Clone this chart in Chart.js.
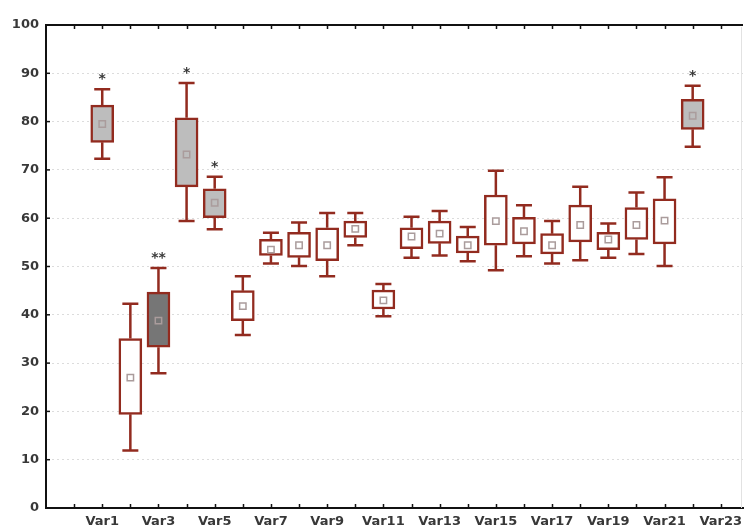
<!DOCTYPE html>
<html>
<head>
<meta charset="utf-8">
<script src="https://cdn.jsdelivr.net/npm/chart.js@4.4.0/dist/chart.umd.min.js"></script>
<style>
    html, body { margin: 0; padding: 0; background: #fff; }
    #wrap { width: 749px; height: 532px; }
</style>
</head>
<body>
<div id="wrap"><canvas id="chart" width="749" height="532"></canvas></div>
<script>
const categories = ['Var1', 'Var2', 'Var3', 'Var4', 'Var5', 'Var6', 'Var7', 'Var8', 'Var9', 'Var10', 'Var11',
    'Var12', 'Var13', 'Var14', 'Var15', 'Var16', 'Var17', 'Var18', 'Var19', 'Var20', 'Var21', 'Var22'];

const whiskerLow = [72.3, 11.9, 27.9, 59.4, 57.7, 35.8, 50.6, 50.1, 48.0, 54.4, 39.7,
    51.8, 52.3, 51.1, 49.2, 52.1, 50.6, 51.3, 51.8, 52.6, 50.1, 74.8];
const boxLow = [75.7, 19.4, 33.3, 66.5, 60.1, 38.8, 52.3, 51.9, 51.2, 56.0, 41.2,
    53.7, 54.8, 52.8, 54.4, 54.7, 52.6, 55.1, 53.5, 55.6, 54.7, 78.4];
const means = [79.5, 27.0, 38.8, 73.2, 63.2, 41.8, 53.5, 54.4, 54.4, 57.8, 43.0,
    56.2, 56.8, 54.4, 59.4, 57.3, 54.4, 58.6, 55.6, 58.6, 59.5, 81.2];
const boxHigh = [83.4, 35.1, 44.7, 80.8, 66.1, 45.0, 55.6, 57.1, 58.0, 59.4, 45.1,
    58.0, 59.4, 56.3, 64.8, 60.2, 56.8, 62.7, 57.1, 62.2, 64.0, 84.6];
const whiskerHigh = [86.7, 42.3, 49.7, 88.0, 68.6, 48.0, 57.0, 59.1, 61.1, 61.1, 46.4,
    60.3, 61.5, 58.2, 69.8, 62.7, 59.4, 66.5, 58.9, 65.3, 68.5, 87.4];
const marks = ['*', '', '**', '*', '*', '', '', '', '', '', '',
    '', '', '', '', '', '', '', '', '', '', '*'];
const fillGroup = ['gray', 'white', 'dark', 'gray', 'gray', 'white', 'white', 'white', 'white', 'white', 'white',
    'white', 'white', 'white', 'white', 'white', 'white', 'white', 'white', 'white', 'white', 'gray'];

const xTickLabels = ['', 'Var1', '', 'Var3', '', 'Var5', '', 'Var7', '', 'Var9', '', 'Var11', '',
    'Var13', '', 'Var15', '', 'Var17', '', 'Var19', '', 'Var21', '', 'Var23'];
const yTicks = [0, 10, 20, 30, 40, 50, 60, 70, 80, 90, 100];

const edgeColor = '#922b1f';
const fills = { gray: '#bdbdbd', dark: '#767676', white: '#ffffff' };
const textColor = '#383838';
const labelFont = { family: 'DejaVu Sans', size: 13, weight: 'bold' };

// whiskers, stars and the inner tick marks
const boxExtras = {
    id: 'boxExtras',
    afterDatasetsDraw(chart) {
        const { ctx, chartArea, scales: { x, y } } = chart;
        ctx.save();
        ctx.strokeStyle = edgeColor;
        ctx.lineWidth = 2.5;
        categories.forEach((c, i) => {
            const px = x.getPixelForValue(i + 1);
            const pairs = [[boxHigh[i], whiskerHigh[i]], [boxLow[i], whiskerLow[i]]];
            pairs.forEach(([from, to]) => {
                const y1 = y.getPixelForValue(from);
                const y2 = y.getPixelForValue(to);
                ctx.beginPath();
                ctx.moveTo(px, y1);
                ctx.lineTo(px, y2);
                ctx.moveTo(px - 8, y2);
                ctx.lineTo(px + 8, y2);
                ctx.stroke();
            });
            if (marks[i]) {
                ctx.fillStyle = textColor;
                ctx.font = 'bold 14px "DejaVu Sans"';
                ctx.textAlign = 'center';
                ctx.textBaseline = 'alphabetic';
                ctx.fillText(marks[i], px, y.getPixelForValue(whiskerHigh[i]) - 6);
            }
        });

        ctx.strokeStyle = '#111';
        ctx.lineWidth = 2;
        ctx.beginPath();
        ctx.moveTo(chartArea.left - 1, chartArea.top);
        ctx.lineTo(chartArea.right, chartArea.top);
        ctx.stroke();

        ctx.lineWidth = 1.5;
        x.ticks.forEach(t => {
            const px = Math.round(x.getPixelForValue(t.value)) + 0.5;
            ctx.beginPath();
            ctx.moveTo(px, chartArea.bottom);
            ctx.lineTo(px, chartArea.bottom - 4);
            ctx.moveTo(px, chartArea.top);
            ctx.lineTo(px, chartArea.top + 4);
            ctx.stroke();
        });
        y.ticks.forEach(t => {
            const py = y.getPixelForValue(t.value);
            ctx.beginPath();
            ctx.moveTo(chartArea.left, py);
            ctx.lineTo(chartArea.left + 4, py);
            ctx.stroke();
        });

        ctx.strokeStyle = '#e2e2e2';
        ctx.lineWidth = 1;
        ctx.beginPath();
        ctx.moveTo(741.5, chartArea.top + 2);
        ctx.lineTo(741.5, chartArea.bottom);
        ctx.stroke();
        ctx.restore();
    }
};

new Chart(document.querySelector('#chart').getContext('2d'), {
    type: 'bar',
    data: {
        datasets: [{
            type: 'line',
            label: 'Mean',
            data: categories.map((c, i) => ({ x: i + 1, y: means[i] })),
            showLine: false,
            pointStyle: 'rect',
            pointRadius: 4.5,
            pointBorderWidth: 1.5,
            pointBorderColor: '#aa9c9c',
            pointBackgroundColor: 'rgba(0,0,0,0)',
            order: 0
        }, {
            label: 'Box',
            data: categories.map((c, i) => ({ x: i + 1, y: [boxLow[i], boxHigh[i]] })),
            backgroundColor: fillGroup.map(g => fills[g]),
            borderColor: edgeColor,
            borderWidth: 2.5,
            borderSkipped: false,
            barThickness: 23,
            order: 1
        }]
    },
    options: {
        responsive: false,
        animation: false,
        layout: { padding: { top: 25, right: 0, bottom: 0, left: 0 } },
        plugins: {
            legend: { display: false },
            tooltip: { enabled: false }
        },
        scales: {
            x: {
                type: 'linear',
                min: -1,
                max: 23.79,
                offset: false,
                grid: { display: false, drawTicks: false },
                border: { display: true, color: '#111', width: 2 },
                afterBuildTicks: s => { s.ticks = xTickLabels.map((l, i) => ({ value: i })); },
                afterFit: s => { s.height = 24; },
                ticks: {
                    autoSkip: false,
                    maxRotation: 0,
                    padding: 6,
                    color: textColor,
                    font: labelFont,
                    callback: v => xTickLabels[v] || ''
                }
            },
            y: {
                min: 0,
                max: 100,
                afterBuildTicks: s => { s.ticks = yTicks.map(v => ({ value: v })); },
                afterFit: s => { s.width = 46; },
                grid: { color: '#dcdcdc', lineWidth: 1, drawTicks: false },
                border: { display: true, color: '#111', width: 2, dash: [2, 3] },
                ticks: {
                    padding: 7,
                    color: textColor,
                    font: labelFont
                }
            }
        }
    },
    plugins: [boxExtras]
});
</script>
</body>
</html>
